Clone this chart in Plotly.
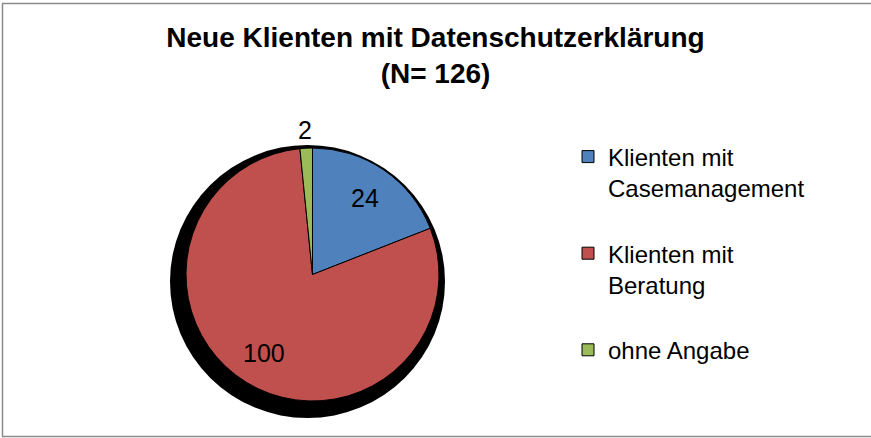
import math
import plotly.graph_objects as go

W, H = 871, 438

# ---- data ----
labels = ["Klienten mit<br>Casemanagement<br> ", "Klienten mit<br>Beratung<br> ", "ohne Angabe"]
values = [24, 100, 2]
colors = ["#4F81BD", "#C0504D", "#9BBB59"]
label_inside = [True, True, False]
title_line1 = "Neue Klienten mit Datenschutzerklärung"
title_line2 = "(N= 126)"

FONT = "Arial, 'Liberation Sans', sans-serif"

def px_x(x):
    return x / W

def px_y(y):
    return 1 - y / H

# pie geometry (pixels)
cx, cy, r = 312.5, 274.5, 126.5

fig = go.Figure()
fig.add_trace(go.Pie(
    labels=labels,
    values=values,
    marker=dict(colors=colors, line=dict(color="black", width=1)),
    sort=False,
    direction="clockwise",
    rotation=0,
    textinfo="none",
    domain=dict(x=[px_x(cx - r), px_x(cx + r)], y=[px_y(cy + r), px_y(cy - r)]),
    hoverinfo="label+value",
))

# value labels placed at each slice's mid-angle (derived from the values)
total = sum(values)
annotations = []
acc = 0.0
for v, inside in zip(values, label_inside):
    mid = (acc + v / 2) / total * 2 * math.pi  # clockwise from 12 o'clock
    acc += v
    rr = r * (0.73 if inside else 1.14)
    x = cx + rr * math.sin(mid)
    y = cy - rr * math.cos(mid)
    annotations.append(dict(
        text=str(v), x=px_x(x), y=px_y(y), xref="paper", yref="paper",
        xanchor="center", yanchor="middle", showarrow=False,
        font=dict(family=FONT, size=25, color="black"),
    ))

# shadow behind the pie and chart border
shapes = [
    dict(type="circle", xref="paper", yref="paper", layer="below",
         x0=px_x(170), x1=px_x(445), y0=px_y(418), y1=px_y(145),
         fillcolor="black", line=dict(width=0)),
    dict(type="path", xref="paper", yref="paper", layer="above",
         path=f"M {px_x(W + 2)},{px_y(3.5)} L {px_x(2.5)},{px_y(3.5)} "
              f"L {px_x(2.5)},{px_y(436.5)} L {px_x(W + 2)},{px_y(436.5)}",
         line=dict(color="#8C8C8C", width=1.5)),
]

fig.update_layout(
    width=W, height=H,
    margin=dict(l=0, r=0, t=0, b=0),
    paper_bgcolor="white",
    plot_bgcolor="white",
    font=dict(family=FONT, color="black"),
    title=dict(
        text=f"<b>{title_line1}<br>{title_line2}</b>",
        x=0.5, xanchor="center", xref="paper",
        y=px_y(46.5), yanchor="top", yref="container",
        font=dict(family=FONT, size=28, color="black"),
    ),
    showlegend=True,
    legend=dict(
        x=px_x(568), y=px_y(134.5), xanchor="left", yanchor="top",
        font=dict(family=FONT, size=24, color="black"),
        valign="top",
        bgcolor="rgba(0,0,0,0)",
    ),
    shapes=shapes,
    annotations=annotations,
)

fig.write_html(
    "out.html",
    config={"displayModeBar": False},
    post_script="document.body.style.margin='0';document.body.style.overflow='hidden';",
)
